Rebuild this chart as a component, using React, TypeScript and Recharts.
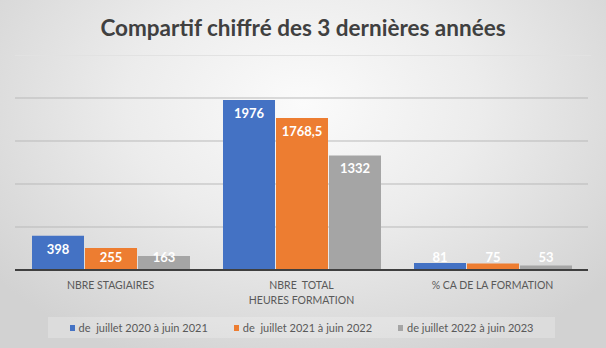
import React from 'react';
import { BarChart, Bar, XAxis, YAxis, CartesianGrid, Legend, LabelList } from 'recharts';

const categories = ['NBRE STAGIAIRES', 'NBRE  TOTAL\nHEURES FORMATION', '% CA DE LA FORMATION'];
const seriesNames = ['de  juillet 2020 à juin 2021', 'de  juillet 2021 à juin 2022', 'de juillet 2022 à juin 2023'];
const values2021 = [398, 1976, 81];
const values2022 = [255, 1768.5, 75];
const values2023 = [163, 1332, 53];
const yTicks = [0, 500, 1000, 1500, 2000];

const COLORS = ['#4472C4', '#ED7D31', '#A5A5A5'];
const FONT = 'Lato, "Open Sans", sans-serif';

const data = categories.map((name, i) => ({
  name,
  s1: values2021[i],
  s2: values2022[i],
  s3: values2023[i],
}));

const fmt = (v: number) => String(v).replace('.', ',');

// Excel "inside end" labels: clamp short bars so the text stays above the baseline
const renderLabel = (props: any) => {
  const { x, y, width, height, value } = props;
  const cy = Math.min(y + 13, y + height - 13);
  return (
    <text
      x={x + width / 2}
      y={cy}
      textAnchor="middle"
      dominantBaseline="central"
      fill="#ffffff"
      fontSize={13}
      fontWeight={700}
      fontFamily={FONT}
    >
      {fmt(value)}
    </text>
  );
};

const CategoryTick = (props: any) => {
  const { x, y, payload } = props;
  const lines = String(payload.value).split('\n');
  return (
    <g>
      {lines.map((line, i) => (
        <text
          key={i}
          x={x}
          y={y + 7 + i * 15}
          textAnchor="middle"
          dominantBaseline="central"
          fill="#595959"
          fontSize={10.5}
          fontFamily={FONT}
          style={{ whiteSpace: 'pre' }}
        >
          {line}
        </text>
      ))}
    </g>
  );
};

const LegendBox = () => (
  <div style={{ height: 38, paddingTop: 7, boxSizing: 'border-box' }}>
    <div
      style={{
        marginLeft: 33,
        width: 507,
        height: 21,
        background: 'rgba(255,255,255,0.22)',
        display: 'flex',
        alignItems: 'center',
        justifyContent: 'center',
        gap: 26,
        fontFamily: FONT,
        fontSize: 11,
        color: '#595959',
      }}
    >
      {seriesNames.map((n, i) => (
        <div key={n} style={{ display: 'flex', alignItems: 'center', gap: 4 }}>
          <span style={{ width: 5, height: 6, background: COLORS[i], display: 'inline-block' }} />
          <span style={{ whiteSpace: 'pre' }}>{n}</span>
        </div>
      ))}
    </div>
  </div>
);

export default function App() {
  return (
    <div
      style={{
        position: 'absolute',
        left: 0,
        top: 0,
        width: 606,
        height: 348,
        background:
          'radial-gradient(ellipse 65% 80% at 50% 30%, #fbfbfb 0%, #ececec 45%, #d2d2d2 100%)',
        fontFamily: FONT,
        overflow: 'hidden',
      }}
    >
      <div
        style={{
          position: 'absolute',
          top: 13,
          left: 0,
          width: 606,
          textAlign: 'center',
          fontSize: 22.5,
          fontWeight: 700,
          color: '#404040',
          lineHeight: '30px',
        }}
      >
        Compartif chiffré des 3 dernières années
      </div>
      <div style={{ position: 'absolute', top: 55, left: 15, width: 576, height: 1, background: '#e2e2e2' }} />
      <BarChart
        width={606}
        height={348}
        data={data}
        margin={{ top: 98, right: 18, left: 15, bottom: 0 }}
        barCategoryGap={17}
        barGap={1}
      >
        <CartesianGrid vertical={false} stroke="#b9b9b9" />
        <YAxis hide domain={[0, 2000]} ticks={yTicks} />
        <XAxis
          dataKey="name"
          height={40}
          interval={0}
          tickLine={false}
          axisLine={{ stroke: '#3f3f3f', strokeWidth: 2 }}
          tick={<CategoryTick />}
        />
        <Legend verticalAlign="bottom" height={38} content={<LegendBox />} />
        <Bar dataKey="s1" name={seriesNames[0]} fill={COLORS[0]} isAnimationActive={false}>
          <LabelList dataKey="s1" content={renderLabel} />
        </Bar>
        <Bar dataKey="s2" name={seriesNames[1]} fill={COLORS[1]} isAnimationActive={false}>
          <LabelList dataKey="s2" content={renderLabel} />
        </Bar>
        <Bar dataKey="s3" name={seriesNames[2]} fill={COLORS[2]} isAnimationActive={false}>
          <LabelList dataKey="s3" content={renderLabel} />
        </Bar>
      </BarChart>
    </div>
  );
}
